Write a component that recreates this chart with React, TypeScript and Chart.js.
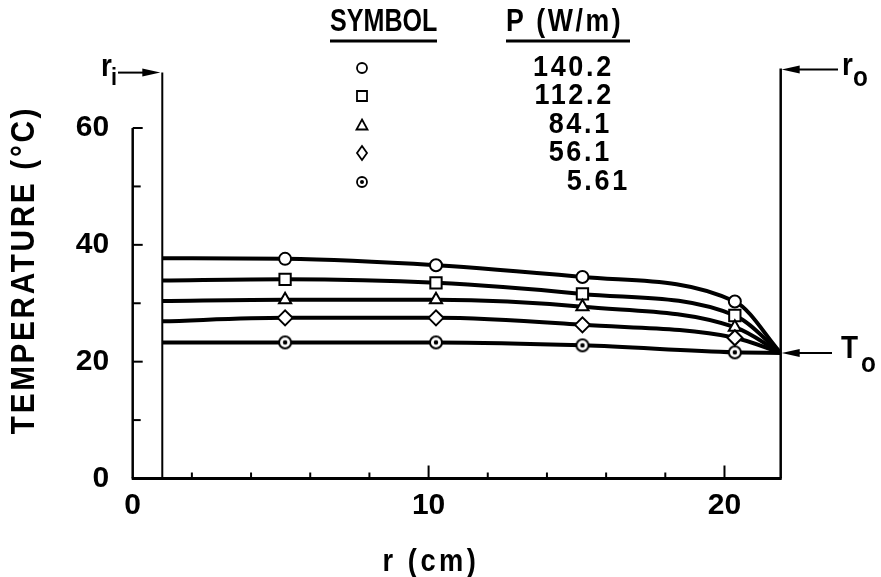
import React, { useEffect, useRef } from "react";
import { Chart, registerables } from "chart.js";

Chart.register(...registerables);

// ---- data ----
const radiusCm = [1.0, 5.15, 10.25, 15.2, 20.35, 21.9];
const powerLabels = ["140.2", "112.2", "84.1", "56.1", "5.61"];
const temp140 = [37.7, 37.6, 36.5, 34.5, 30.3, 21.5];
const temp112 = [33.9, 34.1, 33.5, 31.6, 27.9, 21.5];
const temp84 = [30.4, 30.6, 30.6, 29.4, 25.9, 21.5];
const temp56 = [26.9, 27.5, 27.5, 26.3, 24.1, 21.5];
const temp5 = [23.3, 23.3, 23.3, 22.8, 21.6, 21.5];
const xTickLabels = [0, 10, 20];
const xMinorTicks = [2, 4, 6, 8, 10, 12, 14, 16, 18, 20];
const yTickLabels = [0, 20, 40, 60];
const yMinorTicks = [10, 20, 30, 40, 50, 60];
const rInner = 1.0;
const rOuter = 21.9;
const tOuter = 21.5;
const xMax = 21.9;
const yMax = 70;

const FONT = "'Liberation Sans', Arial, sans-serif";

function makeDotCircle(r: number): HTMLCanvasElement {
  const c = document.createElement("canvas");
  const s = Math.ceil(r * 2 + 4);
  c.width = s;
  c.height = s;
  const ctx = c.getContext("2d")!;
  ctx.fillStyle = "#fff";
  ctx.strokeStyle = "#000";
  ctx.lineWidth = 2;
  ctx.beginPath();
  ctx.arc(s / 2, s / 2, r, 0, Math.PI * 2);
  ctx.fill();
  ctx.stroke();
  ctx.fillStyle = "#000";
  ctx.beginPath();
  ctx.arc(s / 2, s / 2, r * 0.38, 0, Math.PI * 2);
  ctx.fill();
  return c;
}

function drawText(
  ctx: CanvasRenderingContext2D,
  txt: string,
  x: number,
  y: number,
  size: number,
  spacing = 0,
  align: CanvasTextAlign = "left",
  sx = 1
) {
  ctx.save();
  ctx.translate(x, y);
  ctx.scale(sx, 1);
  ctx.font = `bold ${size}px ${FONT}`;
  (ctx as any).letterSpacing = `${spacing}px`;
  ctx.textAlign = align;
  ctx.textBaseline = "middle";
  ctx.fillText(txt, 0, 0);
  ctx.restore();
}

function arrowLeft(ctx: CanvasRenderingContext2D, tipX: number, tailX: number, y: number) {
  ctx.lineWidth = 2;
  ctx.beginPath();
  ctx.moveTo(tailX, y);
  ctx.lineTo(tipX + 14, y);
  ctx.stroke();
  ctx.beginPath();
  ctx.moveTo(tipX, y);
  ctx.lineTo(tipX + 18, y - 4);
  ctx.lineTo(tipX + 18, y + 4);
  ctx.closePath();
  ctx.fill();
}

function arrowRight(ctx: CanvasRenderingContext2D, tailX: number, tipX: number, y: number) {
  ctx.lineWidth = 2;
  ctx.beginPath();
  ctx.moveTo(tailX, y);
  ctx.lineTo(tipX - 14, y);
  ctx.stroke();
  ctx.beginPath();
  ctx.moveTo(tipX, y);
  ctx.lineTo(tipX - 18, y - 4);
  ctx.lineTo(tipX - 18, y + 4);
  ctx.closePath();
  ctx.fill();
}

function drawLegendSymbol(ctx: CanvasRenderingContext2D, kind: string, x: number, y: number) {
  ctx.strokeStyle = "#000";
  ctx.fillStyle = "#fff";
  ctx.lineWidth = 1.8;
  ctx.beginPath();
  if (kind === "circle" || kind === "dot") {
    ctx.arc(x, y, 5, 0, Math.PI * 2);
  } else if (kind === "rect") {
    ctx.rect(x - 5, y - 5, 10, 10);
  } else if (kind === "triangle") {
    ctx.moveTo(x, y - 5.5);
    ctx.lineTo(x + 5.5, y + 4.5);
    ctx.lineTo(x - 5.5, y + 4.5);
    ctx.closePath();
  } else if (kind === "diamond") {
    ctx.moveTo(x, y - 7);
    ctx.lineTo(x + 5, y);
    ctx.lineTo(x, y + 7);
    ctx.lineTo(x - 5, y);
    ctx.closePath();
  }
  ctx.fill();
  ctx.stroke();
  if (kind === "dot") {
    ctx.fillStyle = "#000";
    ctx.beginPath();
    ctx.arc(x, y, 2, 0, Math.PI * 2);
    ctx.fill();
  }
}

const decorPlugin = {
  id: "decor",
  afterDatasetsDraw(chart: any) {
    const ctx: CanvasRenderingContext2D = chart.ctx;
    const xs = chart.scales.x;
    const ys = chart.scales.y;
    const px = (v: number) => xs.getPixelForValue(v);
    const py = (v: number) => ys.getPixelForValue(v);
    ctx.save();
    ctx.strokeStyle = "#000";
    ctx.fillStyle = "#000";
    ctx.lineCap = "butt";

    // x axis line
    ctx.lineWidth = 3;
    ctx.beginPath();
    ctx.moveTo(px(0) - 1, py(0));
    ctx.lineTo(px(rOuter) + 1, py(0));
    ctx.stroke();
    // left y axis (0..60)
    ctx.lineWidth = 2.5;
    ctx.beginPath();
    ctx.moveTo(px(0), py(0));
    ctx.lineTo(px(0), py(60));
    ctx.stroke();
    // y ticks (inward)
    ctx.lineWidth = 2;
    yMinorTicks.forEach((v) => {
      const len = v % 20 === 0 ? 10 : 8;
      ctx.beginPath();
      ctx.moveTo(px(0), py(v));
      ctx.lineTo(px(0) + len, py(v));
      ctx.stroke();
    });
    // x ticks (inward)
    xMinorTicks.forEach((v) => {
      const len = v % 10 === 0 ? 13 : 6;
      ctx.beginPath();
      ctx.moveTo(px(v), py(0));
      ctx.lineTo(px(v), py(0) - len);
      ctx.stroke();
    });
    // r_i and r_o vertical lines
    const top = chart.chartArea.top;
    ctx.lineWidth = 2;
    ctx.beginPath();
    ctx.moveTo(px(rInner), py(0));
    ctx.lineTo(px(rInner), top + 3);
    ctx.stroke();
    ctx.lineWidth = 2.5;
    ctx.beginPath();
    ctx.moveTo(px(rOuter), py(0));
    ctx.lineTo(px(rOuter), top - 1);
    ctx.stroke();

    // arrows
    arrowRight(ctx, 118, px(rInner) - 2, top + 3);
    arrowLeft(ctx, px(rOuter) + 1, 838, top);
    arrowLeft(ctx, px(rOuter) + 1, 832, py(tOuter));

    // annotation labels
    drawText(ctx, "r", 101, top - 2, 31, 0, "left", 0.9);
    drawText(ctx, "i", 111, top + 9, 24, 0, "left", 0.9);
    drawText(ctx, "r", 842, top - 3, 31, 0, "left", 0.9);
    drawText(ctx, "o", 853, top + 9, 27, 0, "left", 0.9);
    drawText(ctx, "T", 841, py(tOuter) - 3, 31, 0, "left", 0.9);
    drawText(ctx, "o", 861, py(tOuter) + 12, 27, 0, "left", 0.9);

    // legend header
    drawText(ctx, "SYMBOL", 330, 22, 31, 0, "left", 0.81);
    drawText(ctx, "P (W/m)", 506, 22, 31, 3, "left", 0.86);
    ctx.lineWidth = 3;
    ctx.beginPath();
    ctx.moveTo(330, 41);
    ctx.lineTo(437, 41);
    ctx.moveTo(506, 41);
    ctx.lineTo(630, 41);
    ctx.stroke();

    const kinds = ["circle", "rect", "triangle", "diamond", "dot"];
    const rowY = [68, 96, 125, 153, 182];
    const valueX = [614, 614, 612, 612, 630];
    powerLabels.forEach((p, i) => {
      drawLegendSymbol(ctx, kinds[i], 362, rowY[i]);
      ctx.fillStyle = "#000";
      drawText(ctx, p, valueX[i], rowY[i], 30, 3, "right", 0.9);
    });

    // axis titles
    ctx.fillStyle = "#000";
    drawText(ctx, "r (cm)", 431, 562, 31, 4, "center", 0.88);
    ctx.save();
    ctx.translate(25, 270);
    ctx.rotate(-Math.PI / 2);
    drawText(ctx, "TEMPERATURE (°C)", 0, 0, 33, 3, "center", 0.9);
    ctx.restore();

    ctx.restore();
  },
};

export default function App() {
  const ref = useRef<HTMLCanvasElement | null>(null);
  useEffect(() => {
    if (!ref.current) return;
    const dot = makeDotCircle(6);
    const mkSet = (label: string, data: number[], style: any, radius: number) => ({
      label,
      data: radiusCm.map((r, i) => ({ x: r, y: data[i] })),
      borderColor: "#000",
      borderWidth: 4,
      backgroundColor: "#fff",
      pointBackgroundColor: "#fff",
      pointBorderColor: "#000",
      pointBorderWidth: 2,
      pointStyle: style,
      pointRadius: radiusCm.map((_, i) => (i === 0 || i === radiusCm.length - 1 ? 0 : radius)),
      cubicInterpolationMode: "monotone" as const,
      fill: false,
    });
    const chart = new Chart(ref.current, {
      type: "line",
      data: {
        datasets: [
          mkSet(powerLabels[4], temp5, dot, 6.5),
          mkSet(powerLabels[3], temp56, "rectRot", 7.5),
          mkSet(powerLabels[2], temp84, "triangle", 7),
          mkSet(powerLabels[1], temp112, "rect", 8),
          mkSet(powerLabels[0], temp140, "circle", 6),
        ],
      },
      options: {
        animation: false,
        responsive: false,
        layout: { padding: { left: 0, top: 69.6, right: 100.3, bottom: 0 } },
        plugins: { legend: { display: false }, tooltip: { enabled: false } },
        scales: {
          x: {
            type: "linear",
            min: 0,
            max: xMax,
            grid: { display: false },
            border: { display: false },
            afterBuildTicks: (s: any) => {
              s.ticks = xTickLabels.map((value) => ({ value }));
            },
            afterFit: (s: any) => {
              s.height = 98.5;
            },
            ticks: {
              color: "#000",
              padding: 1,
              maxRotation: 0,
              font: { family: FONT, size: 30, weight: "bold" },
              callback: (v: any) => String(v),
            },
          },
          y: {
            type: "linear",
            min: 0,
            max: yMax,
            grid: { display: false },
            border: { display: false },
            afterBuildTicks: (s: any) => {
              s.ticks = yTickLabels.map((value) => ({ value }));
            },
            afterFit: (s: any) => {
              s.width = 132.7;
            },
            ticks: {
              color: "#000",
              padding: 15.5,
              font: { family: FONT, size: 30, weight: "bold" },
              callback: (v: any) => String(v),
            },
          },
        },
      },
      plugins: [decorPlugin],
    });
    return () => chart.destroy();
  }, []);
  return (
    <div style={{ position: "fixed", left: 0, top: 0, width: 881, height: 577, background: "#fff" }}>
      <canvas ref={ref} width={881} height={577} style={{ display: "block" }} />
    </div>
  );
}
